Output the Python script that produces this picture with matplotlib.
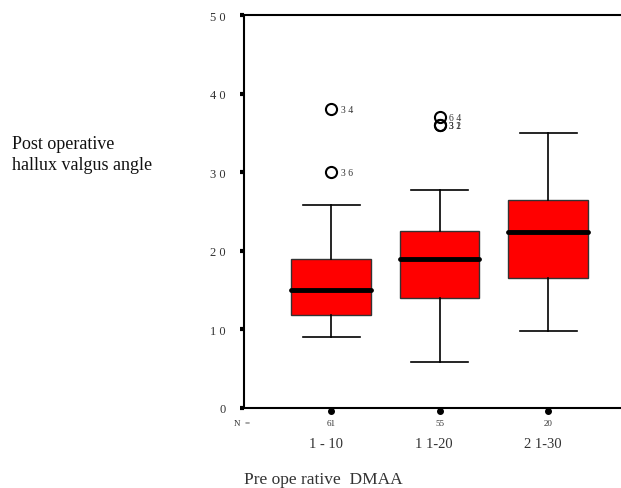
import matplotlib.pyplot as plt

# box statistics
groups = ['1 - 10', '1 1-20', '2 1-30']
counts = ['61', '55', '20']
whislo = [9, 5.8, 9.8]
q1 = [11.8, 14, 16.5]
med = [15, 19, 22.4]
q3 = [19, 22.5, 26.5]
whishi = [25.8, 27.8, 35]
outliers = [[38, 30], [37, 36, 36], []]
outlier_ids = [['3 4', '3 6'], ['6 4', '3 2', '3 1'], []]
yticks = [0, 10, 20, 30, 40, 50]
ytick_labels = ['0', '1 0', '2 0', '3 0', '4 0', '5 0']

plt.rcParams['font.family'] = ['Liberation Serif', 'DejaVu Serif']
txt = '#333333'

fig = plt.figure(figsize=(6.21, 4.89), dpi=100)
ax = fig.add_axes([0.393, 0.1636, 0.62, 0.8034])

pos = [1, 2, 3]
stats = []
for i in range(3):
    stats.append(dict(whislo=whislo[i], q1=q1[i], med=med[i], q3=q3[i],
                      whishi=whishi[i], fliers=outliers[i]))

ax.bxp(stats, positions=pos, widths=0.735, patch_artist=True,
       boxprops=dict(facecolor='#ff0000', edgecolor='#333333', linewidth=1),
       medianprops=dict(color='black', linewidth=3.5, solid_capstyle='round'),
       whiskerprops=dict(color='black', linewidth=1.2),
       capprops=dict(color='black', linewidth=1.2),
       capwidths=0.525,
       flierprops=dict(marker='o', markersize=8, markerfacecolor='none',
                       markeredgecolor='black', markeredgewidth=1.5))

for i in range(3):
    for v, lab in zip(outliers[i], outlier_ids[i]):
        ax.text(pos[i] + 0.09, v, lab, fontsize=7, color=txt,
                va='center', ha='left')

ax.set_xlim(0.197, 3.747)
ax.set_ylim(0, 50)
ax.set_yticks(yticks)
ax.set_yticklabels(ytick_labels, fontsize=9, color=txt)
ax.tick_params(axis='y', length=3, width=3, direction='out', pad=10)
ax.set_xticks(pos)
ax.set_xticklabels([])
ax.tick_params(axis='x', length=0)
# little dots under the axis at each group
ax.plot(pos, [-0.4] * 3, 'o', color='black', markersize=4, clip_on=False)

for s in ['left', 'bottom', 'top']:
    ax.spines[s].set_linewidth(1.5)
ax.spines['right'].set_visible(False)

for p, n, g in zip(pos, counts, groups):
    ax.text(p, -1.9, n, fontsize=6.5, color=txt, ha='center', va='center')
    ax.text(p - 0.05, -4.5, g, fontsize=10.5, color=txt,
            ha='center', va='center')
ax.text(0.18, -1.9, 'N  =', fontsize=6.5, color=txt, ha='center', va='center')

fig.text(0.393, 0.018, 'Pre ope rative  DMAA', fontsize=12.5, color=txt,
         ha='left', va='center')
fig.text(0.019, 0.683, 'Post operative\nhallux valgus angle', fontsize=13,
         color='#111111', ha='left', va='center', linespacing=1.25)

fig.savefig('out.png', dpi=100)
